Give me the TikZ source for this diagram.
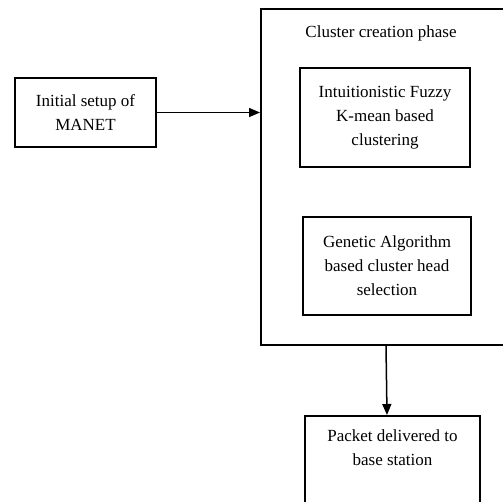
\documentclass[tikz,border=0pt]{standalone}
\usepackage{fontspec}
\setmainfont{Liberation Serif}
\usetikzlibrary{arrows.meta}
\begin{document}
\begin{tikzpicture}[x=1pt,y=-1pt,
  box/.style={draw,line width=1.5pt,rectangle,inner sep=0pt,align=center,font=\fontsize{17}{24}\selectfont},
  txt/.style={align=center,inner sep=0pt,font=\fontsize{17}{24}\selectfont},
  arr/.style={-{Triangle[length=11pt,width=9pt]},line width=1.5pt}]
\useasboundingbox (0,0) rectangle (503,501);
\clip (0,0) rectangle (503,501);
\node[box,minimum width=141,minimum height=69] (init) at (85.5,112.5) {Initial setup of\\MANET};
\node[box,minimum width=262,minimum height=336,anchor=north west] (phase) at (260,8) {};
\node[txt] (title) at (381,33) {Cluster creation phase};
\node[box,minimum width=170,minimum height=99] (fuzzy) at (385,117.5) {Intuitionistic Fuzzy\\K-mean based\\clustering};
\node[box,minimum width=168,minimum height=98] (ga) at (387,266) {Genetic Algorithm\\based cluster head\\selection};
\node[box,minimum width=175,minimum height=150,anchor=north] (dest) at (392.5,415) {};
\node[txt] (desttxt) at (392.5,447.5) {Packet delivered to\\base station};
\draw[arr] (init.east) -- (init.east -| phase.west);
\draw[arr] ([xshift=126pt]phase.south west) -- ([xshift=-5.5pt]dest.north);
\end{tikzpicture}
\end{document}
